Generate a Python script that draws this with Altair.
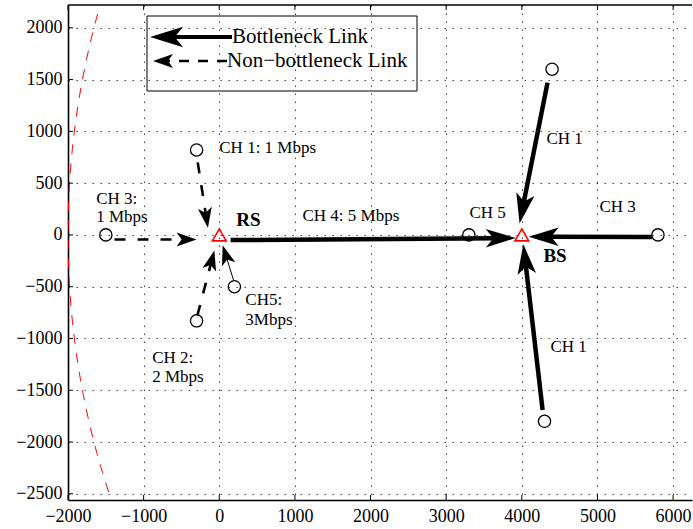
import math

import altair as alt
import pandas as pd

# Axis extents (metres) and plot-area size (pixels)
X_MIN, X_MAX = -2000, 6250
Y_MIN, Y_MAX = -2560, 2220
PLOT_W, PLOT_H = 624, 495
KX = PLOT_W / (X_MAX - X_MIN)
KY = PLOT_H / (Y_MAX - Y_MIN)

FONT = "Liberation Serif"

x_ticks = [-2000, -1000, 0, 1000, 2000, 3000, 4000, 5000, 6000]
y_ticks = [-2500, -2000, -1500, -1000, -500, 0, 500, 1000, 1500, 2000]

# Relay station and base station
station_x = [0, 4000]
station_y = [0, 0]

# Cluster heads
ch_x = [-300, -1500, -300, 200, 3300, 4400, 5800, 4300]
ch_y = [820, 0, -830, -500, 0, 1600, 0, -1800]

# Bottleneck links: start point and arrow tip
bn_x0 = [150, 4340, 4275, 5720]
bn_y0 = [-50, 1470, -1690, -20]
bn_x1 = [3920, 3970, 4020, 4090]
bn_y1 = [-30, 110, -90, -18]

# Non-bottleneck links into the relay station
nb_x0 = [-285, -1385, -290]
nb_y0 = [700, -45, -780]
nb_x1 = [-150, -300, -65]
nb_y1 = [70, -45, -150]

# Thin link from CH5 to the relay station
th_x0 = [190]
th_y0 = [-440]
th_x1 = [45]
th_y1 = [-100]

# Coverage circle around the base station
coverage_cx, coverage_cy, coverage_r = 4000, 0, 6000

# Plain labels (left edge, vertical centre)
label_text = ["CH 1: 1 Mbps", "CH 3:", "1 Mbps", "CH 4: 5 Mbps", "CH 5", "CH 3",
              "CH 1", "CH 1", "CH5:", "3Mbps", "CH 2:", "2 Mbps"]
label_x = [0, -1627, -1627, 1100, 3307, 5026, 4325, 4378, 344, 344, -886, -886]
label_y = [840, 348, 174, 184, 213, 270, 927, -1082, -628, -821, -1188, -1372]

# Station names
name_text = ["RS", "BS"]
name_x = [225, 4286]
name_y = [145, -203]

legend_text = ["Bottleneck Link", "Non\u2212bottleneck Link"]

HEAD_BN = "M0,0 L0.62,2 L0,1.5 L-0.62,2 Z"
HEAD_NB = "M0,0 L0.7,2 L0,1.5 L-0.7,2 Z"


def arrow_frame(x0, y0, x1, y1, back_px):
    rows = []
    for a, b, c, d in zip(x0, y0, x1, y1):
        dxp = (c - a) * KX
        dyp = (d - b) * KY
        length = math.hypot(dxp, dyp)
        ux, uy = dxp / length, dyp / length
        rows.append(dict(
            x0=a, y0=b, x1=c, y1=d,
            xe=c - ux * back_px / KX,
            ye=d - uy * back_px / KY,
            angle=math.degrees(math.atan2(dxp, dyp)) % 360,
        ))
    return pd.DataFrame(rows)


bn = arrow_frame(bn_x0, bn_y0, bn_x1, bn_y1, 19)
nb = arrow_frame(nb_x0, nb_y0, nb_x1, nb_y1, 12)
th = arrow_frame(th_x0, th_y0, th_x1, th_y1, 12)

# Points along the coverage circle (left side only is visible)
circle_t = [150 + 0.5 * i for i in range(121)]
circle = pd.DataFrame({
    "t": circle_t,
    "x": [coverage_cx + coverage_r * math.cos(math.radians(t)) for t in circle_t],
    "y": [coverage_cy + coverage_r * math.sin(math.radians(t)) for t in circle_t],
})

xs = alt.Scale(domain=[X_MIN, X_MAX], nice=False, zero=False)
ys = alt.Scale(domain=[Y_MIN, Y_MAX], nice=False, zero=False)

x_axis = alt.Axis(values=x_ticks, title=None, grid=True, gridDash=[1.5, 6.5],
                  gridColor="#222", gridOpacity=0.85, ticks=False, format="d",
                  labelFont=FONT, labelFontSize=18, labelColor="black",
                  labelPadding=7, labelFlush=False, domainColor="black",
                  domainWidth=1.6)
y_axis = alt.Axis(values=y_ticks, title=None, grid=True, gridDash=[1.5, 6.5],
                  gridColor="#222", gridOpacity=0.85, ticks=False, format="d",
                  labelFont=FONT, labelFontSize=18, labelColor="black",
                  labelPadding=6, labelFlush=False, domainColor="black",
                  domainWidth=1.6)


def X(field):
    return alt.X(field, scale=xs, axis=x_axis)


def Y(field):
    return alt.Y(field, scale=ys, axis=y_axis)


coverage = alt.Chart(circle).mark_line(
    color="red", strokeWidth=1, strokeDash=[10, 9], clip=True
).encode(x=X("x:Q"), y=Y("y:Q"), order=alt.Order("t:Q"))

# Inward tick marks
xt = pd.DataFrame({"v": x_ticks})
yt = pd.DataFrame({"v": y_ticks})
xtick_bottom = alt.Chart(xt).mark_rule(color="black", strokeWidth=1).encode(
    x=X("v:Q"), y=alt.value(PLOT_H), y2=alt.value(PLOT_H - 5))
xtick_top = alt.Chart(xt).mark_rule(color="black", strokeWidth=1).encode(
    x=X("v:Q"), y=alt.value(0), y2=alt.value(5))
ytick = alt.Chart(yt).mark_rule(color="black", strokeWidth=1).encode(
    y=Y("v:Q"), x=alt.value(0), x2=alt.value(5))

one = pd.DataFrame({"k": [0]})
top_border = alt.Chart(one).mark_rule(color="black", strokeWidth=1.5).encode(
    x=alt.value(0), x2=alt.value(PLOT_W), y=alt.value(0))


def link_layers(df, width, dash, head_path, head_size):
    line_kw = dict(color="black", strokeWidth=width)
    if dash:
        line_kw["strokeDash"] = dash
    line = alt.Chart(df).mark_rule(**line_kw).encode(
        x=X("x0:Q"), y=Y("y0:Q"), x2="xe:Q", y2="ye:Q")
    head = alt.Chart(df).mark_point(
        shape=head_path, filled=True, color="black", opacity=1,
        size=head_size, strokeWidth=0
    ).encode(x=X("x1:Q"), y=Y("y1:Q"), angle=alt.Angle("angle:Q", scale=None))
    return [line, head]


layers = [coverage, xtick_bottom, xtick_top, ytick, top_border]
layers += link_layers(bn, 4.5, None, HEAD_BN, 900)
layers += link_layers(nb, 2.6, [11, 12], HEAD_NB, 400)
layers += link_layers(th, 1, None, HEAD_NB, 400)

ch_df = pd.DataFrame({"x": ch_x, "y": ch_y})
ch_nodes = alt.Chart(ch_df).mark_point(
    shape="circle", filled=False, color="black", size=150, strokeWidth=1.3, opacity=1
).encode(x=X("x:Q"), y=Y("y:Q"))

st_df = pd.DataFrame({"x": station_x, "y": station_y})
st_nodes = alt.Chart(st_df).mark_point(
    shape="triangle-up", filled=False, color="red", size=190, strokeWidth=1.6, opacity=1
).encode(x=X("x:Q"), y=Y("y:Q"))

lab_df = pd.DataFrame({"t": label_text, "x": label_x, "y": label_y})
labels = alt.Chart(lab_df).mark_text(
    font=FONT, fontSize=17, align="left", baseline="middle", color="black"
).encode(x=X("x:Q"), y=Y("y:Q"), text="t:N")

name_df = pd.DataFrame({"t": name_text, "x": name_x, "y": name_y})
names = alt.Chart(name_df).mark_text(
    font=FONT, fontSize=19, fontWeight="bold", align="left", baseline="middle", color="black"
).encode(x=X("x:Q"), y=Y("y:Q"), text="t:N")

layers += [ch_nodes, st_nodes, labels, names]

# Legend box
legend_box = alt.Chart(one).mark_rect(
    fill=None, fillOpacity=0, stroke="black", strokeWidth=1
).encode(x=alt.value(79), x2=alt.value(349), y=alt.value(11), y2=alt.value(86))
leg_line1 = alt.Chart(one).mark_rule(color="black", strokeWidth=4).encode(
    x=alt.value(105), x2=alt.value(164), y=alt.value(32), y2=alt.value(32))
leg_head1 = alt.Chart(one).mark_point(
    shape=HEAD_BN, filled=True, color="black", opacity=1, size=1089, strokeWidth=0, angle=270
).encode(x=alt.value(82), y=alt.value(32))
leg_line2 = alt.Chart(one).mark_rule(color="black", strokeWidth=2.6, strokeDash=[10, 9]).encode(
    x=alt.value(159), x2=alt.value(98), y=alt.value(56), y2=alt.value(56))
leg_head2 = alt.Chart(one).mark_point(
    shape=HEAD_NB, filled=True, color="black", opacity=1, size=400, strokeWidth=0, angle=270
).encode(x=alt.value(85), y=alt.value(56))
leg_df = pd.DataFrame({"t": legend_text, "px": [164, 159], "py": [32, 56]})
leg_text = alt.Chart(leg_df).mark_text(
    font=FONT, fontSize=21, align="left", baseline="middle", color="black"
).encode(x=alt.X("px:Q", scale=None), y=alt.Y("py:Q", scale=None), text="t:N")

layers += [legend_box, leg_line1, leg_head1, leg_line2, leg_head2, leg_text]

chart = alt.layer(*layers).properties(
    width=PLOT_W,
    height=PLOT_H,
    autosize=alt.AutoSizeParams(type="none"),
    padding={"left": 68, "top": 5, "right": 1, "bottom": 29},
    background="white",
).configure_view(stroke=None)

chart.save("out.html", embed_options={"renderer": "svg", "actions": False})
